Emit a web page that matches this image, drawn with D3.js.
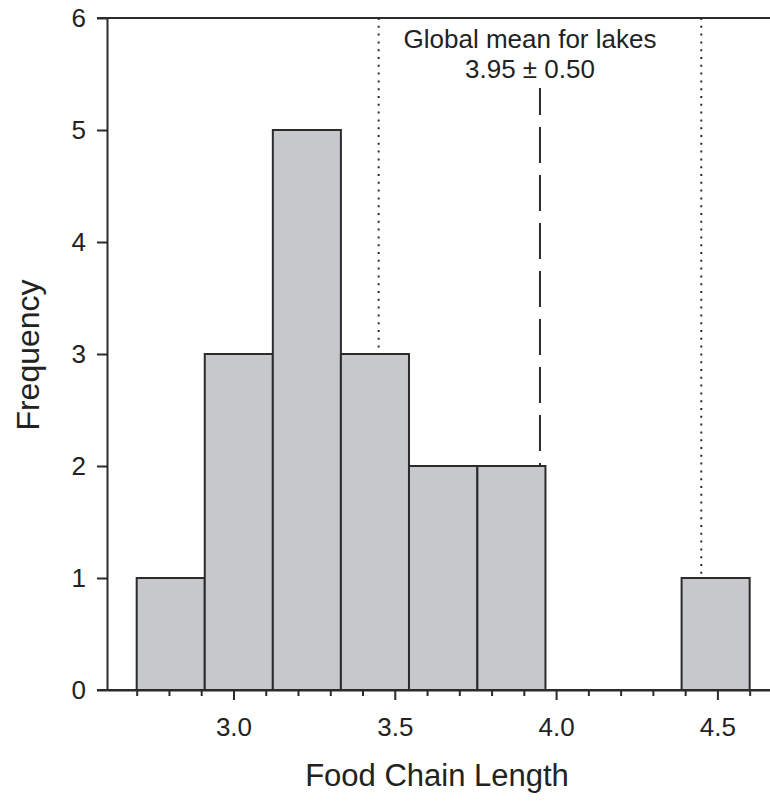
<!DOCTYPE html>
<html>
<head>
<meta charset="utf-8">
<script src="https://cdn.jsdelivr.net/npm/d3@7"></script>
<style>
  body { margin: 0; background: #fff; }
  svg { display: block; font-family: "Liberation Sans", Arial, sans-serif; }
</style>
</head>
<body>
<div id="chart"></div>
<script>
// histogram data
const binEdges = [2.7, 2.911, 3.122, 3.333, 3.544, 3.756, 3.967, 4.178, 4.389, 4.6];
const counts = [1, 3, 5, 3, 2, 2, 0, 0, 1];
const yTicks = [0, 1, 2, 3, 4, 5, 6];
const xMajorTicks = [3.0, 3.5, 4.0, 4.5];
const xMinorTicks = [2.7, 2.8, 2.9, 3.1, 3.2, 3.3, 3.4, 3.6, 3.7, 3.8, 3.9, 4.1, 4.2, 4.3, 4.4, 4.6];
const globalMean = 3.95;
const globalSd = 0.5;
const annotation = ["Global mean for lakes", "3.95 \u00B1 0.50"];

const width = 770, height = 801;
const ink = "#2b2b2b";

const svg = d3.select("#chart").append("svg")
  .attr("width", width)
  .attr("height", height);

const x = d3.scaleLinear().domain([2.608, 4.663]).range([107, 770]);
const y = d3.scaleLinear().domain([0, 6]).range([690, 18]);

const bins = counts.map((c, i) => ({ x0: binEdges[i], x1: binEdges[i + 1], count: c }));

// bars
svg.append("g")
  .selectAll("rect")
  .data(bins.filter(d => d.count > 0))
  .enter()
  .append("rect")
  .attr("x", d => x(d.x0))
  .attr("y", d => y(d.count))
  .attr("width", d => x(d.x1) - x(d.x0))
  .attr("height", d => y(0) - y(d.count))
  .attr("fill", "#c6c8cc")
  .attr("stroke", ink)
  .attr("stroke-width", 2);

// height of the bar a value falls in
function barTop(v) {
  const b = bins.find(d => v >= d.x0 && v < d.x1);
  return y(b ? b.count : 0);
}

// dotted lines at mean +/- sd
[globalMean - globalSd, globalMean + globalSd].forEach(v => {
  svg.append("line")
    .attr("x1", x(v)).attr("x2", x(v))
    .attr("y1", y(6)).attr("y2", barTop(v))
    .attr("stroke", ink)
    .attr("stroke-width", 2)
    .attr("stroke-dasharray", "2,5.8");
});

// dashed line at the mean
svg.append("line")
  .attr("x1", x(globalMean)).attr("x2", x(globalMean))
  .attr("y1", 88).attr("y2", barTop(globalMean))
  .attr("stroke", ink)
  .attr("stroke-width", 2)
  .attr("stroke-dasharray", "36,12")
  .attr("stroke-dashoffset", 9);

// annotation
svg.append("text")
  .attr("x", 530)
  .attr("y", 48)
  .attr("text-anchor", "middle")
  .attr("font-size", "26px")
  .attr("fill", "#222")
  .selectAll("tspan")
  .data(annotation)
  .enter()
  .append("tspan")
  .attr("x", 530)
  .attr("dy", (d, i) => i === 0 ? 0 : 30)
  .text(d => d);

// y axis
const yAxis = svg.append("g")
  .attr("transform", `translate(${x.range()[0]},0)`)
  .call(d3.axisLeft(y).tickValues(yTicks).tickFormat(d3.format("d")).tickSize(10).tickSizeOuter(0));

// x axis
const xAxis = svg.append("g")
  .attr("transform", `translate(0,${y(0)})`)
  .call(d3.axisBottom(x).tickValues(xMajorTicks).tickFormat(d3.format(".1f")).tickSize(10).tickSizeOuter(0).tickPadding(18));

svg.append("g")
  .attr("transform", `translate(0,${y(0)})`)
  .call(d3.axisBottom(x).tickValues(xMinorTicks).tickFormat("").tickSize(6).tickSizeOuter(0))
  .select(".domain").remove();

// top frame line
svg.append("line")
  .attr("x1", x.range()[0] - 10).attr("x2", width)
  .attr("y1", y(6)).attr("y2", y(6))
  .attr("stroke", ink)
  .attr("stroke-width", 2);

// bottom baseline extends left like the 0 tick
svg.append("line")
  .attr("x1", x.range()[0] - 10).attr("x2", width)
  .attr("y1", y(0)).attr("y2", y(0))
  .attr("stroke", ink)
  .attr("stroke-width", 2);

svg.selectAll(".domain").attr("stroke", ink).attr("stroke-width", 2);
svg.selectAll(".tick line").attr("stroke", ink).attr("stroke-width", 2);
svg.selectAll(".tick text")
  .attr("font-size", "26px")
  .attr("font-family", "Liberation Sans, Arial, sans-serif")
  .attr("fill", "#222");
yAxis.selectAll(".tick text").attr("x", -21);

// axis titles
svg.append("text")
  .attr("x", 437)
  .attr("y", 786)
  .attr("text-anchor", "middle")
  .attr("font-size", "31px")
  .attr("fill", "#222")
  .text("Food Chain Length");

svg.append("text")
  .attr("transform", "rotate(-90)")
  .attr("x", -355)
  .attr("y", 39)
  .attr("text-anchor", "middle")
  .attr("font-size", "32px")
  .attr("fill", "#222")
  .text("Frequency");
</script>
</body>
</html>
